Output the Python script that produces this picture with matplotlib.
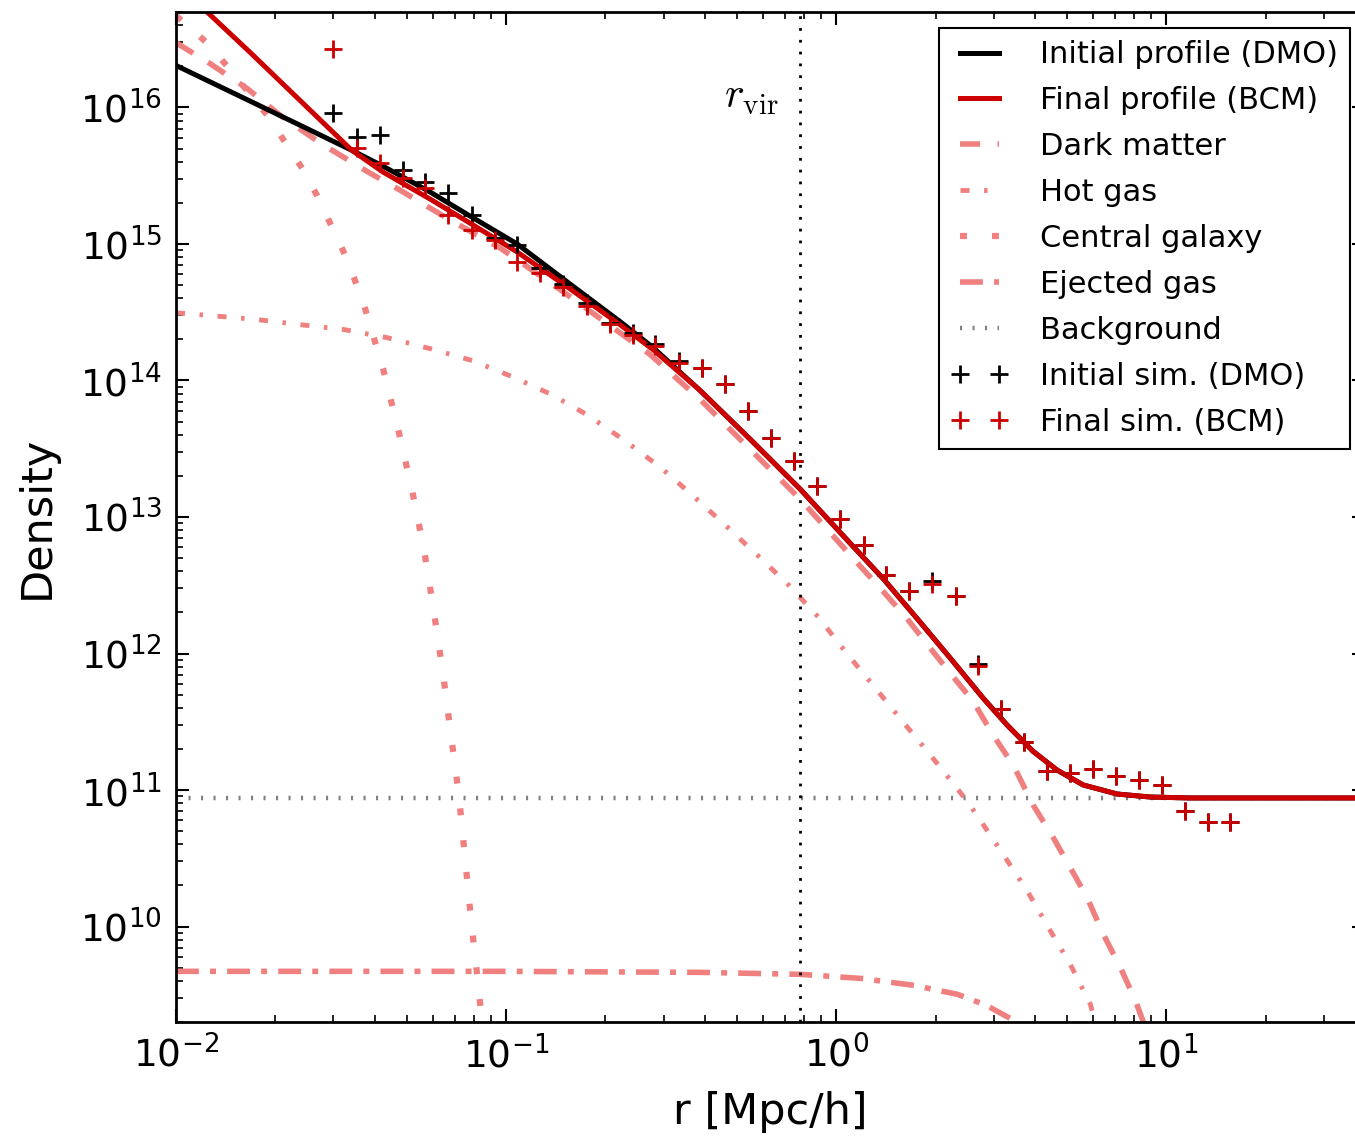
import numpy as np
import matplotlib.pyplot as plt

plt.rcParams['mathtext.fontset'] = 'cm'
plt.rcParams['axes.unicode_minus'] = False
plt.rcParams['lines.scale_dashes'] = False

# --- analytic profiles [Mpc/h], density ---
r_dmo = [0.01, 0.0168, 0.0238, 0.0341, 0.0424, 0.0589, 0.0778, 0.108, 0.156,
         0.2215, 0.279, 0.387, 0.549, 0.778, 1.10, 1.39, 1.76, 2.22, 2.79,
         3.30, 3.95, 4.67, 5.60, 7.10, 8.94, 11.8, 40.0]
rho_dmo = [2.03e16, 1.11e16, 7.39e15, 4.85e15, 3.71e15, 2.40e15, 1.60e15,
           1.0e15, 5.10e14, 2.70e14, 1.74e14, 8.45e13, 3.71e13, 1.60e13,
           6.46e12, 3.52e12, 1.80e12, 9.21e11, 4.70e11, 2.98e11, 1.92e11,
           1.40e11, 1.09e11, 9.35e10, 8.89e10, 8.75e10, 8.75e10]

r_bcm = [0.01, 0.0125, 0.0168, 0.0238, 0.0293, 0.0341, 0.0424, 0.0589, 0.0778,
         0.108, 0.156, 0.2215, 0.279, 0.387, 0.549, 0.778, 1.10, 1.39, 1.76,
         2.22, 2.79, 3.30, 3.95, 4.67, 5.60, 7.10, 8.94, 11.8, 40.0]
rho_bcm = [9.35e16, 4.93e16, 2.52e16, 1.12e16, 6.9e15, 4.85e15, 3.36e15,
           2.13e15, 1.42e15, 8.74e14, 4.70e14, 2.56e14, 1.68e14, 8.45e13,
           3.71e13, 1.60e13, 6.46e12, 3.52e12, 1.80e12, 9.21e11, 4.70e11,
           2.98e11, 1.92e11, 1.40e11, 1.09e11, 9.35e10, 8.89e10, 8.75e10,
           8.75e10]

r_dm = [0.01, 0.0127, 0.0164, 0.0207, 0.0273, 0.0379, 0.0477, 0.0676, 0.0959,
        0.146, 0.273, 0.387, 0.778, 1.18, 1.39, 1.64, 1.93, 2.22, 2.60, 2.99,
        3.44, 3.95, 4.55, 5.12, 5.76, 6.45, 7.26, 8.06, 8.64]
rho_dm = [2.98e16, 2.09e16, 1.38e16, 8.75e15, 5.5e15, 3.4e15, 2.48e15, 1.50e15,
          9.35e14, 4.62e14, 1.55e14, 7.26e13, 1.35e13, 4.39e12, 2.84e12,
          1.80e12, 1.09e12, 7.14e11, 4.46e11, 2.52e11, 1.52e11, 7.78e10,
          4.47e10, 2.70e10, 1.63e10, 8.75e9, 5.02e9, 2.88e9, 1.83e9]

r_hga = [0.01, 0.0129, 0.0177, 0.0239, 0.0323, 0.0436, 0.0589, 0.0789, 0.104,
         0.137, 0.177, 0.228, 0.293, 0.366, 0.464, 0.576, 0.721, 0.881, 1.07,
         1.28, 1.56, 1.91, 2.28, 2.49, 2.73, 3.21, 3.79, 4.45, 5.12, 5.89,
         6.14]
rho_hga = [3.13e14, 2.98e14, 2.79e14, 2.56e14, 2.36e14, 2.06e14, 1.71e14,
           1.40e14, 1.07e14, 7.91e13, 5.56e13, 3.65e13, 2.32e13, 1.45e13,
           8.60e12, 5.28e12, 3.14e12, 1.86e12, 1.02e12, 6.04e11, 3.36e11,
           1.86e11, 1.09e11, 8.32e10, 6.04e10, 3.36e10, 1.83e10, 9.35e9,
           5.28e9, 2.70e9, 1.83e9]

r_cga = [0.01, 0.0125, 0.0144, 0.0189, 0.0214, 0.0241, 0.0267, 0.0293, 0.0321,
         0.0348, 0.0374, 0.0424, 0.0471, 0.0519, 0.0565, 0.0605, 0.0644,
         0.0681, 0.0721, 0.0752, 0.0784, 0.0822, 0.0840, 0.0858]
rho_cga = [4.70e16, 2.93e16, 1.96e16, 8.75e15, 5.56e15, 3.59e15, 2.28e15,
           1.42e15, 8.89e14, 5.46e14, 3.36e14, 1.22e14, 4.39e13, 1.57e13,
           5.65e12, 1.99e12, 7.14e11, 2.52e11, 8.75e10, 3.08e10, 1.09e10,
           3.90e9, 2.32e9, 1.55e9]

r_ega = [0.01, 0.0959, 0.387, 0.778, 1.19, 1.72, 2.33, 2.85, 3.41, 3.86]
rho_ega = [4.70e9, 4.70e9, 4.62e9, 4.47e9, 4.17e9, 3.71e9, 3.19e9, 2.65e9,
           2.09e9, 1.68e9]

rho_bg = 8.75e10
r_vir = 0.778

# --- N-body measurements ---
r_sim = [0.0299, 0.0353, 0.0415, 0.0487, 0.0568, 0.0667, 0.0788, 0.0926,
         0.108, 0.127, 0.149, 0.176, 0.207, 0.243, 0.283, 0.334, 0.393,
         0.461, 0.541, 0.636, 0.747, 0.875, 1.03, 1.21, 1.42, 1.66, 1.95,
         2.30, 2.69, 3.16, 3.71, 4.36, 5.12, 6.01, 7.05, 8.28, 9.72, 11.4,
         13.4, 15.6]
rho_sim_dmo = [9.04e15, 6.04e15, 6.25e15, 3.47e15, 2.84e15, 2.36e15, 1.63e15,
               1.11e15, 9.84e14, 6.68e14, 5.1e14, 3.7e14, 2.65e14, 2.24e14,
               1.86e14, 1.40e14, 1.24e14, 9.35e13, 5.94e13, 3.78e13, 2.57e13,
               1.68e13, 9.67e12, 6.25e12, 3.78e12, 2.88e12, 3.41e12, 2.65e12,
               8.45e11, 3.90e11, 2.24e11, 1.38e11, 1.33e11, 1.42e11, 1.26e11,
               1.18e11, 1.09e11, 7.03e10, 5.84e10, 5.84e10]
rho_sim_bcm = [2.70e16, 5.02e15, 3.90e15, 3.03e15, 2.56e15, 1.63e15, 1.27e15,
               1.07e15, 7.39e14, 6.14e14, 4.85e14, 3.53e14, 2.60e14, 2.17e14,
               1.80e14, 1.35e14, 1.24e14, 9.35e13, 5.94e13, 3.78e13, 2.57e13,
               1.68e13, 9.67e12, 6.25e12, 3.78e12, 2.88e12, 3.24e12, 2.65e12,
               8.17e11, 3.90e11, 2.24e11, 1.38e11, 1.33e11, 1.42e11, 1.26e11,
               1.18e11, 1.09e11, 7.03e10, 5.84e10, 5.84e10]

pink = 'lightcoral'
red = '#cc0000'

fig = plt.figure(figsize=(13.55, 11.37), dpi=100)
ax = fig.add_axes([176/1355, 1 - 1022/1137, (1365 - 176)/1355, 1010/1137])

# components
l_dm, = ax.plot(r_dm, rho_dm, color=pink, lw=4, ls=(0, (14.5, 12.5)),
                label='Dark matter')
l_hga, = ax.plot(r_hga, rho_hga, color=pink, lw=3.5, ls=(0, (6.5, 10.5, 2.5, 10.5)),
                 label='Hot gas')
l_cga, = ax.plot(r_cga, rho_cga, color=pink, lw=4.5, ls=(0, (5, 18)),
                 label='Central galaxy')
l_ega, = ax.plot(r_ega, rho_ega, color=pink, lw=4, ls=(0, (16.5, 8, 4.3, 8)),
                 label='Ejected gas')
l_bg = ax.axhline(rho_bg, color='0.5', lw=3.2, ls=(0, (1.5, 7.5)),
                  label='Background')
ax.axvline(r_vir, color='k', lw=2, ls=(0, (2, 6.5)))

# total profiles
l_dmo, = ax.plot(r_dmo, rho_dmo, color='k', lw=3.6, label='Initial profile (DMO)')
l_bcm, = ax.plot(r_bcm, rho_bcm, color=red, lw=3.6, label='Final profile (BCM)')

# simulations
p_dmo, = ax.plot(r_sim, rho_sim_dmo, '+', color='k', ms=13, mew=2,
                 label='Initial sim. (DMO)')
p_bcm, = ax.plot(r_sim, rho_sim_bcm, '+', color=red, ms=13, mew=2,
                 label='Final sim. (BCM)')

ax.text(0.67, 1.0e16, r'$r_{\rm vir}$', fontsize=30, ha='right', va='baseline')

ax.set_xscale('log')
ax.set_yscale('log')
ax.set_xlim(0.01, 40)
ax.set_ylim(2e9, 5e16)

ax.set_xlabel('r [Mpc/h]', fontsize=31, labelpad=11)
ax.set_ylabel('Density', fontsize=31, labelpad=16)

ax.tick_params(which='both', direction='in', top=True, right=True,
               labelsize=27)
ax.tick_params(which='major', length=9.5, width=1.5, pad=10)
ax.tick_params(which='minor', length=5, width=1.2)
for s in ax.spines.values():
    s.set_linewidth(2)

handles = [l_dmo, l_bcm, l_dm, l_hga, l_cga, l_ega, l_bg, p_dmo, p_bcm]
leg = ax.legend(handles=handles, loc='upper right', fontsize=22,
                bbox_to_anchor=(1350/1355, 1 - 28/1137),
                bbox_transform=fig.transFigure, borderaxespad=0,
                numpoints=2, handlelength=1.85, handletextpad=1.05,
                labelspacing=0.555, borderpad=0.4, fancybox=False,
                framealpha=1)
leg.get_frame().set_edgecolor('k')
leg.get_frame().set_linewidth(1.5)

fig.savefig('out.png', dpi=100)
